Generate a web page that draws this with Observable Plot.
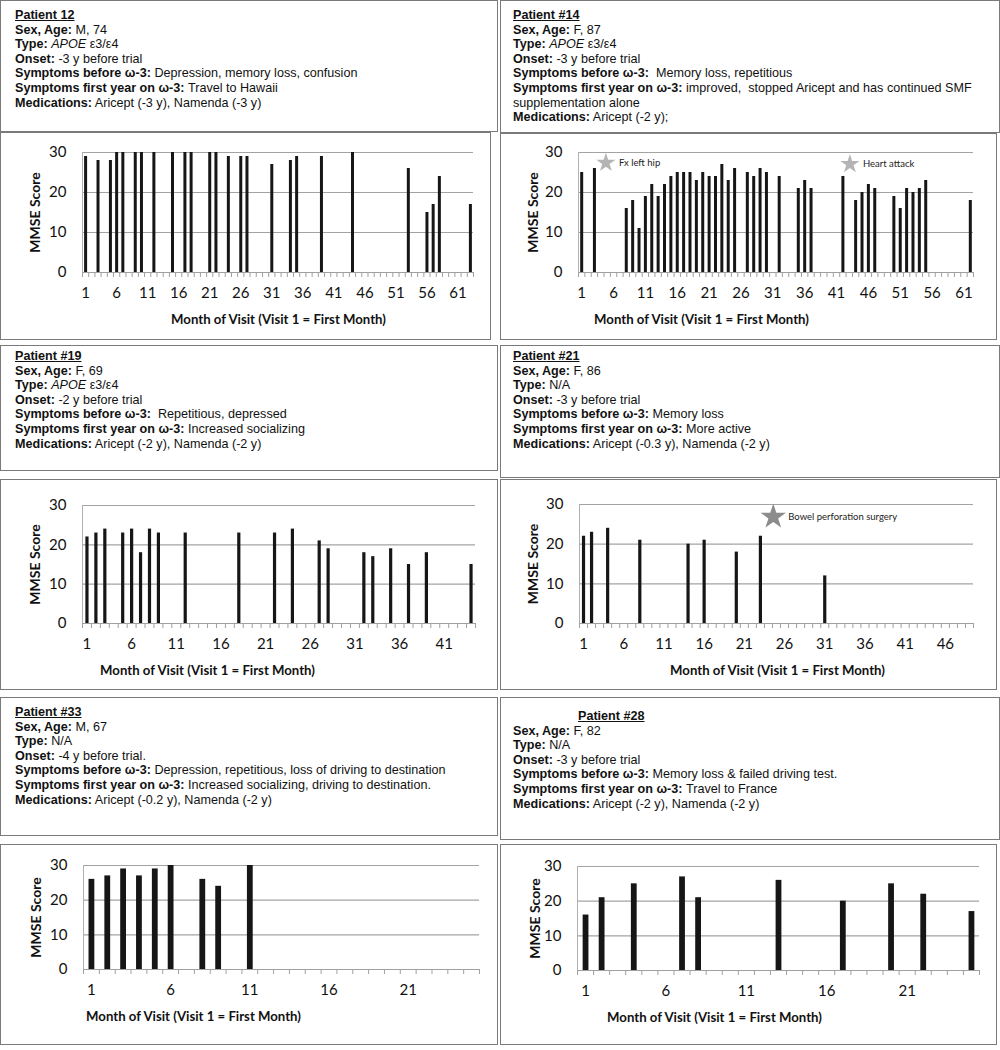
<!DOCTYPE html>
<html><head><meta charset="utf-8">
<script src="https://cdn.jsdelivr.net/npm/d3@7"></script>
<script src="https://cdn.jsdelivr.net/npm/@observablehq/plot@0.6"></script>
<style>
body{margin:0;background:#fff;}
#root{position:relative;width:1000px;height:1050px;overflow:hidden;background:#fff;}
.box{position:absolute;border:1px solid #7a7a7a;box-sizing:border-box;}
.txt{font-family:"Liberation Sans",Arial,sans-serif;font-size:12.6px;line-height:14.6px;color:#111;white-space:nowrap;}
.txt b{font-weight:bold;}
.txt .ttl{font-weight:bold;text-decoration:underline;}
.chart{position:absolute;}
.chart svg{display:block;}
</style></head>
<body><div id="root"></div>
<script>
// ---------- data ----------
const p12Months = [1,3,5,6,7,9,10,12,15,17,18,21,22,24,26,27,31,34,35,39,44,53,56,57,58,63];
const p12Scores = [29,28,28,30,30,30,30,30,30,30,30,30,30,29,29,29,27,28,29,29,30,26,15,17,24,17];
const p14Months = [1,3,8,9,10,11,12,13,14,15,16,17,18,19,20,21,22,23,24,25,27,28,29,30,32,35,36,37,42,44,45,46,47,50,51,52,53,54,55,62];
const p14Scores = [25,26,16,18,11,19,22,19,22,24,25,25,25,23,25,24,24,27,23,26,25,24,26,25,24,21,23,21,24,18,20,22,21,19,16,21,20,21,23,18];
const p19Months = [1,2,3,5,6,7,8,9,12,18,22,24,27,28,32,33,35,37,39,44];
const p19Scores = [22,23,24,23,24,18,24,23,23,23,23,24,21,19,18,17,19,15,18,15];
const p21Months = [1,2,4,8,14,16,20,23,31];
const p21Scores = [22,23,24,21,20,21,18,22,12];
const p33Months = [1,2,3,4,5,6,8,9,11];
const p33Scores = [26,27,29,27,29,30,26,24,30];
const p28Months = [1,2,4,7,8,13,17,20,22,25];
const p28Scores = [16,21,25,27,21,26,20,25,22,17];

const p14Events = [{m:4.8, v:27.4, label:"Fx left hip"},{m:43.1, v:27.1, label:"Heart attack"}];
const p21Events = [{m:24.6, v:26.9, label:"Bowel perforation surgery"}];

const yTicks = [0,10,20,30];
const xLabels63 = d3.range(1, 62, 5);
const xLabels49 = d3.range(1, 47, 5);
const xLabels44 = d3.range(1, 42, 5);
const xLabels25 = d3.range(1, 22, 5);

const yTitle = "MMSE Score";
const xTitle = "Month of Visit (Visit 1 = First Month)";

const textBoxes = [
 {box:[0,0,498,132], pad:[7,14], title:"Patient 12", lines:[["Sex, Age:"," M, 74"],["Type:",null,"APOE"," ε3/ε4"],["Onset:"," -3 y before trial"],["Symptoms before ω-3:"," Depression, memory loss, confusion"],["Symptoms first year on ω-3:"," Travel to Hawaii"],["Medications:"," Aricept (-3 y), Namenda (-3 y)"]]},
 {box:[500,0,500,133], pad:[7,12], title:"Patient #14", lines:[["Sex, Age:"," F, 87"],["Type:",null,"APOE"," ε3/ε4"],["Onset:"," -3 y before trial"],["Symptoms before ω-3:","  Memory loss, repetitious"],["Symptoms first year on ω-3:"," improved,  stopped Aricept and has continued SMF"],["","supplementation alone"],["Medications:"," Aricept (-2 y);"]]},
 {box:[0,345,498,126], pad:[3,14], title:"Patient #19", lines:[["Sex, Age:"," F, 69"],["Type:",null,"APOE"," ε3/ε4"],["Onset:"," -2 y before trial"],["Symptoms before ω-3:","  Repetitious, depressed"],["Symptoms first year on ω-3:"," Increased socializing"],["Medications:"," Aricept (-2 y), Namenda (-2 y)"]]},
 {box:[500,345,500,133], pad:[3,12], title:"Patient #21", lines:[["Sex, Age:"," F, 86"],["Type:"," N/A"],["Onset:"," -3 y before trial"],["Symptoms before ω-3:"," Memory loss"],["Symptoms first year on ω-3:"," More active"],["Medications:"," Aricept (-0.3 y), Namenda (-2 y)"]]},
 {box:[0,697,498,139], pad:[7,14], title:"Patient #33", lines:[["Sex, Age:"," M, 67"],["Type:"," N/A"],["Onset:"," -4 y before trial."],["Symptoms before ω-3:"," Depression, repetitious, loss of driving to destination"],["Symptoms first year on ω-3:"," Increased socializing, driving to destination."],["Medications:"," Aricept (-0.2 y), Namenda (-2 y)"]]},
 {box:[500,697,500,143], pad:[11,12], title:"Patient #28", titleIndent:65, lines:[["Sex, Age:"," F, 82"],["Type:"," N/A"],["Onset:"," -3 y before trial"],["Symptoms before ω-3:"," Memory loss & failed driving test."],["Symptoms first year on ω-3:"," Travel to France"],["Medications:"," Aricept (-2 y), Namenda (-2 y)"]]}
];

const charts = [
 {box:[0,132,491,208], months:p12Months, scores:p12Scores, n:63, labels:xLabels63, ml:82, mr:18, mt:20, mb:68, bw:3, titleDx:196, yTitleX:35},
 {box:[500,133,497,207], months:p14Months, scores:p14Scores, n:62, labels:xLabels63, ml:78, mr:24, mt:19, mb:68, bw:3, titleDx:123, yTitleX:33, events:p14Events, evR:6, evFill:"#b4b4b4"},
 {box:[0,479,498,211], months:p19Months, scores:p19Scores, n:44, labels:xLabels44, ml:82, mr:23, mt:26, mb:67, bw:3.2, titleDx:125, yTitleX:35},
 {box:[500,479,497,211], months:p21Months, scores:p21Scores, n:49, labels:xLabels49, ml:79, mr:24, mt:25, mb:67, bw:3.2, titleDx:198, yTitleX:33, events:p21Events, evR:8, evFill:"#8c8c8c"},
 {box:[0,844,498,201], months:p33Months, scores:p33Scores, n:25, labels:xLabels25, ml:83, mr:19, mt:21, mb:76, bw:5.8, titleDx:110, yTitleX:36},
 {box:[500,844,497,201], months:p28Months, scores:p28Scores, n:25, labels:xLabels25, ml:77, mr:18, mt:22, mb:75, bw:5.8, titleDx:137, yTitleX:35}
];

// ---------- build ----------
const root = document.getElementById("root");
const font = "Lato, 'Open Sans', sans-serif";

for (const t of textBoxes) {
  const d = document.createElement("div");
  d.className = "box txt";
  const [x,y,w,h] = t.box;
  Object.assign(d.style, {left:x+"px", top:y+"px", width:w+"px", height:h+"px", padding:`${t.pad[0]}px 8px 0 ${t.pad[1]}px`});
  let html = `<div class="ttl" style="margin-left:${t.titleIndent||0}px">${t.title}</div>`;
  for (const ln of t.lines) {
    if (ln[1] === null) html += `<div><b>${ln[0]}</b> <i>${ln[2]}</i>${ln[3]}</div>`;
    else if (ln[0] === "") html += `<div>${ln[1]}</div>`;
    else html += `<div><b>${ln[0]}</b>${ln[1].replace(/  /g," &nbsp;")}</div>`;
  }
  d.innerHTML = html;
  root.appendChild(d);
}

for (const c of charts) {
  const [x,y,w,h] = c.box;
  const frame = document.createElement("div");
  frame.className = "box";
  Object.assign(frame.style, {left:x+"px", top:y+"px", width:w+"px", height:h+"px"});
  root.appendChild(frame);

  const data = c.months.map((m,i) => ({m, v:c.scores[i]}));
  const bounds = d3.range(0, c.n + 1).map(k => k + 0.5);
  const marks = [
    Plot.ruleY([10,20,30], {stroke:"#a3a3a3", strokeWidth:1.2}),
    Plot.ruleX([0.5], {y1:0, y2:30, stroke:"#b0b0b0"}),
    Plot.axisX(bounds, {tickSize:5, stroke:"#a0a0a0", tickFormat:() => "", label:null}),
    Plot.axisX(c.labels, {tickSize:0, tickPadding:15, fontSize:15, fontFamily:font, fill:"#111", label:null}),
    Plot.axisY(yTicks, {tickSize:0, tickPadding:16, fontSize:15, fontFamily:font, fill:"#111", label:null}),
    Plot.ruleY([0], {stroke:"#a0a0a0", strokeWidth:1.2}),
    Plot.ruleX(data, {x:"m", y1:0, y2:"v", stroke:"#161616", strokeWidth:c.bw}),
    Plot.text([xTitle], {frameAnchor:"bottom-left", textAnchor:"middle", dx:c.titleDx, dy:51, fontSize:13.2, fontWeight:"bold", fontFamily:font, fill:"#111"}),
    Plot.text([yTitle], {frameAnchor:"left", textAnchor:"middle", dx:-(c.ml - c.yTitleX), rotate:-90, fontSize:14, fontWeight:"bold", fontFamily:font, fill:"#111"})
  ];
  if (c.events) {
    marks.push(Plot.dot(c.events, {x:"m", y:"v", symbol:"star", r:c.evR, fill:c.evFill, stroke:"none"}));
    marks.push(Plot.text(c.events, {x:"m", y:"v", text:"label", dx:c.evR + 7, textAnchor:"start", fontSize:9.5, fontFamily:font, fill:"#222"}));
  }
  const svg = Plot.plot({
    width:w, height:h,
    marginLeft:c.ml, marginRight:c.mr, marginTop:c.mt, marginBottom:c.mb,
    x:{type:"linear", domain:[0.5, c.n + 0.5], axis:null},
    y:{domain:[0,30], axis:null},
    style:{background:"transparent", overflow:"visible"},
    marks
  });
  const holder = document.createElement("div");
  holder.className = "chart";
  Object.assign(holder.style, {left:x+"px", top:y+"px"});
  holder.appendChild(svg);
  root.appendChild(holder);
}
</script>
</body></html>
